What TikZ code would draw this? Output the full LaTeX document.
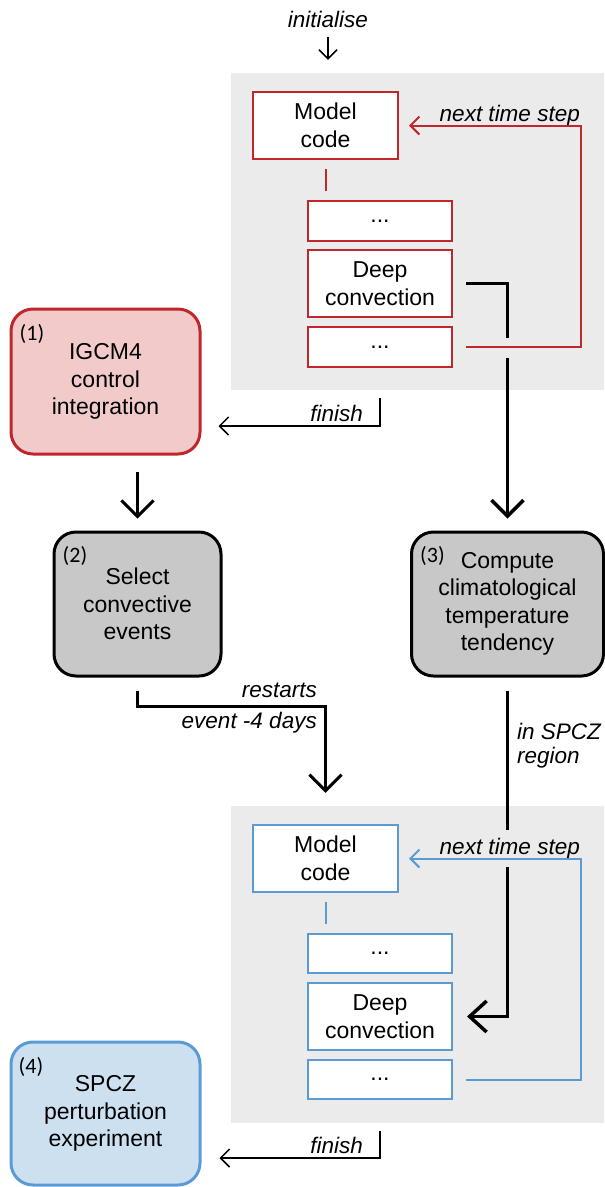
\documentclass[tikz,border=0pt]{standalone}
\usepackage{fontspec}
\setmainfont{Liberation Sans}
\newfontfamily\numfont{Carlito}
\usetikzlibrary{arrows.meta,calc}
\definecolor{cred}{RGB}{192,39,45}
\definecolor{cpink}{RGB}{242,202,202}
\definecolor{cpanel}{RGB}{235,235,235}
\definecolor{cgray}{RGB}{200,200,200}
\definecolor{cblue}{RGB}{91,155,213}
\definecolor{clblue}{RGB}{204,224,240}
\begin{document}
\begin{tikzpicture}[x=1pt,y=-1pt,
  txt/.style={font=\fontsize{23}{27.5}\selectfont, align=center, inner sep=0pt},
  lbl/.style={font=\fontsize{22.5}{24}\selectfont\itshape, inner sep=0pt},
  numlbl/.style={font=\numfont\fontsize{22}{24}\selectfont, inner sep=0pt, anchor=west},
  codebox/.style={draw=#1, line width=2pt, fill=white, txt, minimum width=144pt},
  stagebox/.style={line width=3pt, rounded corners=22pt, txt},
  panel/.style={fill=cpanel, inner sep=0pt, minimum width=373pt, minimum height=317pt},
  smallarrow/.style={line width=1.5pt, -{Straight Barb[length=9pt,width=18pt]}},
  bigarrow/.style={line width=3pt, -{Straight Barb[length=16pt,width=32pt]}},
  thickline/.style={line width=3.5pt},
  loopline/.style={draw=#1, line width=2pt, -{Straight Barb[length=9pt,width=18pt]}},
  linkline/.style={draw=#1, line width=2pt, shorten <=9pt, shorten >=9pt}
]
\useasboundingbox (0,0) rectangle (605,1187);

% ---------- panels ----------
\node[panel] (panelA) at (417.5,231.5) {};
\node[panel] (panelB) at (417.5,964.5) {};

% ---------- top model (red) ----------
\node[codebox=cred, minimum width=145pt, minimum height=67pt] (mcA) at (325.5,125.5) {Model\\code};
\node[codebox=cred, minimum height=40pt] (d1A) at (380,221) {...};
\node[codebox=cred, minimum height=67pt] (dcA) at (380,283.5) {Deep\\convection};
\node[codebox=cred, minimum height=40pt] (d2A) at (380,347) {...};

% ---------- bottom model (blue) ----------
\node[codebox=cblue, minimum width=145pt, minimum height=67pt] (mcB) at (325.5,858.5) {Model\\code};
\node[codebox=cblue, minimum height=39pt] (d1B) at (380,953) {...};
\node[codebox=cblue, minimum height=67pt] (dcB) at (380,1016.5) {Deep\\convection};
\node[codebox=cblue, minimum height=39pt] (d2B) at (380,1079.5) {...};

% ---------- stage boxes ----------
\node[stagebox, draw=cred, fill=cpink, minimum width=189pt, minimum height=145pt] (b1) at (105.5,381.5) {IGCM4\\control\\integration};
\node[stagebox, draw=black, fill=cgray, minimum width=167pt, minimum height=144pt] (b2) at (137.5,604) {Select\\convective\\events};
\node[stagebox, draw=black, fill=cgray, minimum width=192pt, minimum height=144pt] (b3) at (507.5,604) {Compute\\climatological\\temperature\\tendency};
\node[stagebox, draw=cblue, fill=clblue, minimum width=189pt, minimum height=143pt] (b4) at (105.5,1113.5) {SPCZ\\perturbation\\experiment};

\node[numlbl] (n1) at ($(b1.north west)+(10,26)$) {(1)};
\node[numlbl] (n2) at ($(b2.north west)+(10,25)$) {(2)};
\node[numlbl] (n3) at ($(b3.north west)+(10,25)$) {(3)};
\node[numlbl] (n4) at ($(b4.north west)+(9,26)$) {(4)};

% ---------- labels ----------
\node[lbl, anchor=base] (init) at (328,27) {initialise};
\node[lbl, anchor=base east] (ntsA) at (580,121) {next time step};
\node[lbl, anchor=base east] (ntsB) at (580,854) {next time step};
\node[lbl, anchor=base east] (finA) at (363,421) {finish};
\node[lbl, anchor=base east] (finB) at (363,1153) {finish};
\node[lbl, anchor=base east] (rest) at (317,697) {restarts};
\node[lbl, anchor=base east] (evt) at (317,728) {event -4 days};
\node[lbl, anchor=north west, align=left] (spcz) at (517,723) {in SPCZ\\region};

% ---------- coordinates ----------
\coordinate (rA) at (581,125.5);
\coordinate (rB) at (581,858.5);
\coordinate (gA1) at (507.5,338);
\coordinate (gA2) at (507.5,358);
\coordinate (gB1) at (507.5,830);
\coordinate (gB2) at (507.5,867);
\coordinate (fA1) at (380,398);
\coordinate (fA2) at (380,426);
\coordinate (fB1) at (380,1131);
\coordinate (fB2) at (380,1158);
\coordinate (rsA) at (137.5,706);

% ---------- connectors ----------
\draw[smallarrow] ($(init.south)+(0,10)$) -- ($(init.south |- panelA.north)+(0,-13)$);

\draw[linkline=cred] (mcA.south) -- (mcA.south |- d1A.north);
\draw[loopline=cred, shorten <=13pt, shorten >=10pt] (d2A.east) -| (rA) -- (mcA.east);

\draw[linkline=cblue] (mcB.south) -- (mcB.south |- d1B.north);
\draw[loopline=cblue, shorten <=13pt, shorten >=10pt] (d2B.east) -| (rB) -- (mcB.east);

\draw[thickline, shorten <=13pt] (dcA.east) -| (gA1);
\draw[thickline, -{Straight Barb[length=16pt,width=32pt]}, shorten >=12pt] (gA2) -- (b3.north);

\draw[smallarrow] (fA1) -- (fA2) -- ($(b1.east |- fA2)+(17,0)$);
\draw[smallarrow] (fB1) -- (fB2) -- ($(b4.east |- fB2)+(18,0)$);

\draw[bigarrow, shorten <=16pt, shorten >=12pt] (b2.north |- b1.south) -- (b2.north);

\draw[bigarrow, shorten <=13pt, shorten >=13pt] (b2.south) -- (rsA) -| (mcB.north |- panelB.north);

\draw[thickline, shorten <=13pt] (b3.south) -- (gB1);
\draw[thickline, -{Straight Barb[length=17pt,width=31pt]}, shorten >=14pt] (gB2) |- (dcB.east);
\end{tikzpicture}
\end{document}
